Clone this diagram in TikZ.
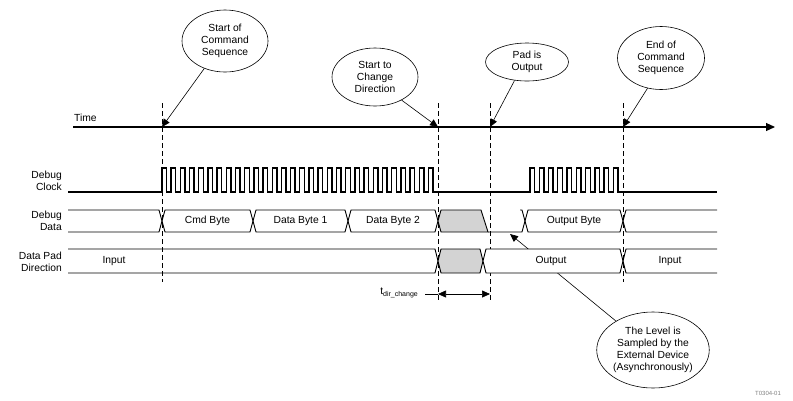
\documentclass[tikz,border=0pt]{standalone}
\usepackage{fontspec}
\setmainfont{Liberation Sans}
\usetikzlibrary{shapes.geometric,arrows.meta}
\definecolor{busgray}{RGB}{211,211,211}
\begin{document}
\begin{tikzpicture}[x=1pt,y=-1pt,
  font=\fontsize{10.3}{12}\selectfont,
  callout/.style={draw,ellipse,line width=0.6pt,inner sep=0pt,align=center},
  pointer/.style={line width=0.6pt,-{Triangle[length=8pt,width=7pt]}},
  guide/.style={line width=0.8pt,dash pattern=on 5pt off 3pt},
  clk/.style={line width=1.4pt,line join=miter},
  bus/.style={line width=0.9pt,line join=miter},
  lbl/.style={inner sep=0pt},
  sig/.style={align=right,anchor=east,inner sep=0pt}]
\useasboundingbox (0,0) rectangle (793,400);

% callouts
\node[callout,minimum width=86pt,minimum height=62pt] (e1) at (225,41) {Start of\\Command\\Sequence};
\node[callout,minimum width=86pt,minimum height=58pt] (e2) at (375,77) {Start to\\Change\\Direction};
\node[callout,minimum width=83pt,minimum height=38pt] (e3) at (527,62) {Pad is\\Output};
\node[callout,minimum width=87pt,minimum height=63pt] (e4) at (661,58) {End of\\Command\\Sequence};
\node[callout,minimum width=111pt,minimum height=76pt] (e5) at (653,350) {The Level is\\Sampled by the\\External Device\\(Asynchronously)};

% time axis
\coordinate (ts) at (73,127);
\coordinate (te) at (775,127);
\draw[line width=1.1pt,-{Triangle[length=9pt,width=8pt]}] (ts) -- (te);
\node[lbl,anchor=west] (time) at (74,118) {Time};

% guides
\foreach \n/\x/\yb in {g1/162/282, g2/438/300, g3/490/300, g4/623/282}{
  \coordinate (\n-top) at (\x,103);
  \coordinate (\n-bot) at (\x,\yb);
  \draw[guide] (\n-top) -- (\n-bot);
}
\coordinate (a1) at (162,127);
\coordinate (a2) at (438,127);
\coordinate (a3) at (490,127);
\coordinate (a4) at (623,127);
\draw[pointer] (e1.233) -- (a1);
\draw[pointer] (e2.319) -- (a2);
\draw[pointer] (e3.236) -- (a3);
\draw[pointer] (e4.246) -- (a4);

% signal labels
\node[sig] (lclk) at (62,180.5) {Debug\\Clock};
\node[sig] (ldata) at (62,221) {Debug\\Data};
\node[sig] (ldir) at (62,261.5) {Data Pad\\Direction};

% clock
\coordinate (c0) at (68,192);
\coordinate (c1) at (162,192);
\coordinate (c2) at (530,192);
\coordinate (c3) at (717,192);
\draw[clk] (c0) -- (c1)
  \foreach \i in {1,...,30}{ -- ++(0,-24) -- ++(4.593,0) -- ++(0,24) -- ++(4.593,0)}
  -- (c2)
  \foreach \i in {1,...,10}{ -- ++(0,-24) -- ++(4.632,0) -- ++(0,24) -- ++(4.632,0)}
  -- (c3);

% sampled pointer (behind direction bus)
\coordinate (samp) at (510,234);
\draw[pointer] (e5.142) -- (samp);

% data bus
\draw[bus] (68,210) -- (159,210) -- (162,221) -- (159,232) -- (68,232);
\draw[bus] (162,221) -- (165,210) -- (250,210) -- (253,221) -- (250,232) -- (165,232) -- cycle;
\draw[bus] (253,221) -- (256,210) -- (345,210) -- (348,221) -- (345,232) -- (256,232) -- cycle;
\draw[bus] (348,221) -- (351,210) -- (435,210) -- (438,221) -- (435,232) -- (351,232) -- cycle;
\draw[bus,fill=busgray] (438,221) -- (441,210) -- (481,210) -- (488,232) -- (441,232) -- cycle;
\draw[bus] (488,232) -- (522,232) -- (525,221);
\draw[bus] (520,210) -- (522,210) -- (525,221);
\draw[bus] (525,221) -- (528,210) -- (620,210) -- (623,221) -- (620,232) -- (528,232) -- cycle;
\draw[bus] (717,210) -- (626,210) -- (623,221) -- (626,232) -- (717,232);

% direction bus
\draw[bus] (68,249) -- (435,249) -- (438,261) -- (435,273) -- (68,273);
\draw[bus,fill=busgray] (438,261) -- (441,249) -- (480,249) -- (483,261) -- (480,273) -- (441,273) -- cycle;
\draw[bus,fill=white] (483,261) -- (486,249) -- (620,249) -- (623,261) -- (620,273) -- (486,273) -- cycle;
\draw[bus] (717,249) -- (626,249) -- (623,261) -- (626,273) -- (717,273);

% bus texts
\node[lbl] (cmd) at (207.5,221) {Cmd Byte};
\node[lbl] (db1) at (300.5,221) {Data Byte 1};
\node[lbl] (db2) at (393,221) {Data Byte 2};
\node[lbl] (ob) at (574,221) {Output Byte};
\node[lbl] (in1) at (114,261) {Input};
\node[lbl] (out) at (551,261) {Output};
\node[lbl] (in2) at (670,261) {Input};

% t_dir_change
\coordinate (tl) at (425,294);
\coordinate (m1) at (438,294);
\coordinate (m2) at (490,294);
\node[lbl,anchor=east] (tdc) at (418,293) {t\raisebox{-2.5pt}{\fontsize{7}{7}\selectfont dir\_change}};
\draw[line width=0.6pt] (tl) -- (m1);
\draw[line width=0.6pt,{Triangle[length=8pt,width=7pt]}-{Triangle[length=8pt,width=7pt]}] (m1) -- (m2);

\node[font=\fontsize{6}{6}\selectfont,text=gray,anchor=south] (fig) at (768,399) {T0304-01};
\end{tikzpicture}
\end{document}
